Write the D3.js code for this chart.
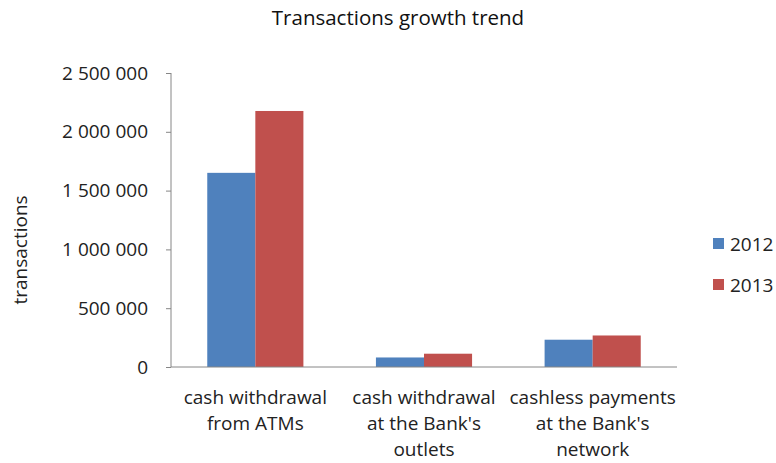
<!doctype html>
<html>
  <head>
    <meta charset="utf-8"/>
    <title>Transactions growth trend</title>
    <style>
      body, html {
        margin: 0;
        padding: 0;
        background: white;
        font-family: "Open Sans", sans-serif;
      }
      .axis path, .axis line {
        stroke: #868686;
      }
      .axis text {
        font-size: 19px;
        fill: #222;
        font-family: "Open Sans", sans-serif;
      }
    </style>
    <script src="https://d3js.org/d3.v7.min.js"></script>
  </head>
  <body>
    <svg width="776" height="463"></svg>
    <script>
      var categories = [
        ["cash withdrawal", "from ATMs"],
        ["cash withdrawal", "at the Bank's", "outlets"],
        ["cashless payments", "at the Bank's", "network"]
      ];
      var years = ["2012", "2013"];
      var values2012 = [1651000, 81000, 232000];
      var values2013 = [2177000, 113000, 268000];
      var yTicks = [0, 500000, 1000000, 1500000, 2000000, 2500000];
      var colors = ["#4f81bd", "#c0504d"];

      var svg = d3.select("svg"),
          margin = {top: 73, right: 99, bottom: 96, left: 171},
          width = 776 - margin.left - margin.right,
          height = 463 - margin.top - margin.bottom;

      var g = svg.append("g")
        .attr("transform", "translate(" + margin.left + "," + margin.top + ")");

      var x = d3.scaleBand()
        .domain(d3.range(categories.length))
        .range([0, width])
        .paddingInner(0.43)
        .paddingOuter(0.215);

      var x1 = d3.scaleBand().domain(years).range([0, x.bandwidth()]);

      var y = d3.scaleLinear().domain([0, 2500000]).range([height, 0]);

      var fmt = function(d) { return d3.format(",")(d).replace(/,/g, " "); };

      var yAxis = g.append("g")
        .attr("class", "axis")
        .call(d3.axisLeft(y).tickValues(yTicks).tickFormat(fmt).tickSize(5).tickPadding(18));
      yAxis.select(".domain").attr("d", "M0,0V" + height);

      var series = [values2012, values2013];
      years.forEach(function(yr, s) {
        g.selectAll(".bar" + s)
          .data(series[s])
          .enter().append("rect")
            .attr("x", function(d, i) { return x(i) + x1(yr); })
            .attr("y", function(d) { return y(d); })
            .attr("width", x1.bandwidth())
            .attr("height", function(d) { return height - y(d); })
            .attr("fill", colors[s]);
      });

      // x axis line
      g.append("line")
        .attr("x1", 0).attr("x2", width)
        .attr("y1", height).attr("y2", height)
        .attr("stroke", "#868686");

      // category labels
      var step = width / categories.length;
      categories.forEach(function(lines, i) {
        var t = g.append("text")
          .attr("text-anchor", "middle")
          .attr("font-size", 19)
          .attr("fill", "#222")
          .attr("x", step * i + step / 2)
          .attr("y", height + 37);
        lines.forEach(function(l, j) {
          t.append("tspan")
            .attr("x", step * i + step / 2)
            .attr("dy", j === 0 ? 0 : 26)
            .text(l);
        });
      });

      svg.append("text")
        .attr("x", 398)
        .attr("y", 25)
        .attr("text-anchor", "middle")
        .attr("font-size", 20.5)
        .attr("fill", "#111")
        .text("Transactions growth trend");

      svg.append("text")
        .attr("transform", "translate(27,250) rotate(-90)")
        .attr("text-anchor", "middle")
        .attr("font-size", 19)
        .attr("fill", "#222")
        .text("transactions");

      var legend = svg.append("g");
      years.forEach(function(yr, i) {
        legend.append("rect")
          .attr("x", 713).attr("y", 238 + i * 41)
          .attr("width", 11).attr("height", 11)
          .attr("fill", colors[i]);
        legend.append("text")
          .attr("x", 730).attr("y", 251 + i * 41)
          .attr("font-size", 19)
          .attr("fill", "#222")
          .text(yr);
      });
    </script>
  </body>
</html>
